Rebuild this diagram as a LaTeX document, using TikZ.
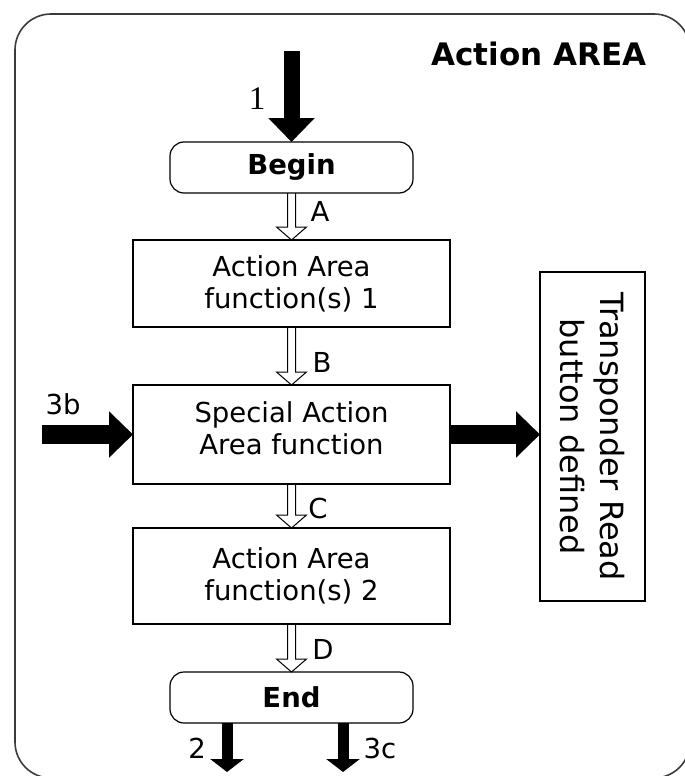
\documentclass[tikz,border=0pt]{standalone}
\usepackage{fontspec}
\setmainfont{DejaVu Sans}
\newfontfamily\serifnum{Liberation Serif}
\usetikzlibrary{arrows.meta,calc}
\definecolor{framegray}{HTML}{3A3A3A}
\newcommand\hollowarr[2]{%
  \draw[hollowline] ($(#1)+(-4,0)$) -- ($(#2)+(-4,-13)$) -- ($(#2)+(-15,-13)$) -- (#2)
    -- ($(#2)+(15,-13)$) -- ($(#2)+(4,-13)$) -- ($(#1)+(4,0)$);}
\begin{document}
\begin{tikzpicture}[x=1pt,y=-1pt,
  every node/.style={inner sep=0pt, outer sep=0pt},
  bodyfont/.style={font=\fontsize{27.5}{32}\selectfont},
  boxnode/.style={draw, line width=1.2pt, bodyfont, align=center, minimum width=317pt},
  term/.style={draw, line width=1.2pt, rounded corners=14pt, minimum width=243pt,
    minimum height=51pt, font=\fontsize{27.5}{32}\selectfont\bfseries},
  lbl/.style={bodyfont},
  hollowline/.style={line width=1pt, line join=miter},
  bigarrow/.style={line width=#1, -{Triangle[length=24pt,width=45pt]}},
  smallarrow/.style={line width=11pt, -{Triangle[length=13pt,width=33pt]}}
]
\useasboundingbox (0,0) rectangle (685,776);
\clip (0,0) rectangle (685,776);
% frame
\draw[framegray, line width=1.6pt, rounded corners=36pt] (15,14) rectangle (690,778);
\node[font=\fontsize{31}{36}\selectfont\bfseries] (title) at (539,54) {Action AREA};

% flow nodes
\node[term] (begin) at (291.5,167.5) {Begin};
\node[boxnode, minimum height=87pt] (box1) at (291.5,283.5) {Action Area\\function(s) 1};
\node[boxnode, minimum height=99pt] (box2) at (291.5,434.5) {Special Action\\Area function\\[-20pt]\mbox{}};
\node[boxnode, minimum height=96pt] (box3) at (291.5,576) {Action Area\\function(s) 2};
\node[term] (end) at (291.5,697.5) {End};
\node[draw, line width=1.2pt, rotate=-90, minimum width=329pt, minimum height=105pt,
  align=center, font=\fontsize{32}{40}\selectfont] (trans) at (592.5,436.5)
  {Transponder Read\\button defined};

% hollow connectors
\hollowarr{begin.south}{box1.north}
\hollowarr{box1.south}{box2.north}
\hollowarr{box2.south}{box3.north}
\hollowarr{box3.south}{end.north}
\node[lbl] (la) at (320,211) {A};
\node[lbl] (lb) at (322,362) {B};
\node[lbl] (lc) at (318,508) {C};
\node[lbl] (ld) at (323,649) {D};

% block arrows
\coordinate (in1) at (291.5,51);
\coordinate (in3b) at (42,434.5);
\coordinate (out2) at (227,772);
\coordinate (out3c) at (343,772);
\draw[bigarrow=16pt] (in1) -- (begin.north);
\draw[bigarrow=19pt] (in3b) -- (box2.west);
\draw[bigarrow=19pt] (box2.east) -- (box2.east -| trans.south);
\draw[smallarrow] (end.south -| out2) -- (out2);
\draw[smallarrow] (end.south -| out3c) -- (out3c);
\node[font=\fontsize{33}{36}\selectfont\serifnum] (l1) at (257,99) {1};
\node[lbl] (l3b) at (63,404) {3b};
\node[lbl] (l2) at (197,748) {2};
\node[lbl] (l3c) at (380,748) {3c};
\end{tikzpicture}
\end{document}
